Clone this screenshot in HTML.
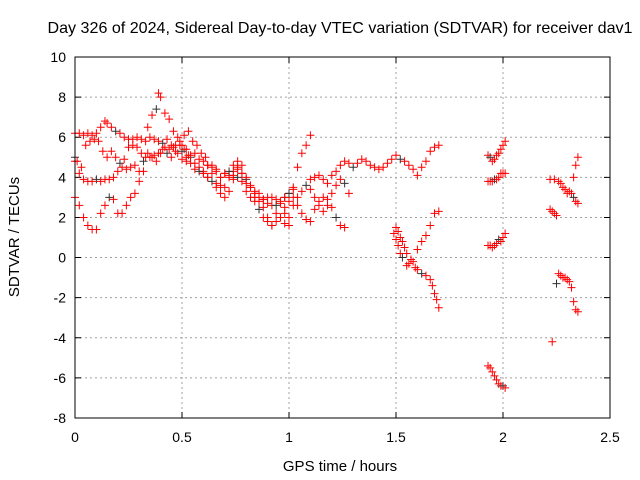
<!DOCTYPE html>
<html><head><meta charset="utf-8"><style>
body{margin:0;background:#fff}
svg{display:block;font-family:"Liberation Sans",sans-serif}
</style></head><body>
<svg id="chart" width="640" height="480" viewBox="0 0 640 480">
<rect width="640" height="480" fill="#fff"/>
<text x="340" y="33" font-size="16" text-anchor="middle" textLength="585" lengthAdjust="spacingAndGlyphs">Day 326 of 2024, Sidereal Day-to-day VTEC variation (SDTVAR) for receiver dav1</text>
<text x="340" y="471" font-size="15" text-anchor="middle">GPS time / hours</text>
<text transform="translate(19,237) rotate(-90)" font-size="15" text-anchor="middle">SDTVAR / TECUs</text>
<g id="grid"></g>
<g id="ticks"></g>
<g id="points"></g>
<rect x="75" y="57" width="535" height="361" fill="none" stroke="#000" stroke-width="1"/>
</svg>
<script>
const xTicks=[0,0.5,1,1.5,2,2.5];
const xTickLabels=["0","0.5","1","1.5","2","2.5"];
const yTicks=[-8,-6,-4,-2,0,2,4,6,8,10];
const yTickLabels=["-8","-6","-4","-2","0","2","4","6","8","10"];
// each track: time (hours) and SDTVAR values
const trackTimes=[
 [0,0.02,0.04,0.06,0.08,0.1,0.12,0.14,0.15,0.17,0.19,0.21,0.23,0.25,0.27,0.29,0.31,0.33,0.35,0.37,0.39,0.41,0.43,0.45,0.47,0.49,0.51,0.53,0.55,0.57,0.59,0.61],
 [0,0.01,0.03,0.05,0.07,0.09,0.11,0.13,0.15,0.17,0.19,0.21,0.23,0.25,0.27,0.29,0.31,0.33,0.35,0.37,0.39,0.41,0.43,0.45,0.47,0.49,0.51,0.53],
 [0,0.02,0.04,0.06,0.08,0.1,0.12,0.14,0.16,0.18,0.2,0.22,0.24,0.26,0.28,0.3,0.32,0.34,0.36,0.38,0.4,0.42,0.44,0.46,0.48,0.5,0.52,0.54,0.56,0.58,0.6,0.62,0.64,0.66,0.68,0.7,0.72,0.74,0.76,0.78,0.8,0.82,0.84,0.86,0.88,0.9,0.92,0.94,0.96,0.98,1.0,1.02],
 [0,0.02,0.04,0.06,0.08,0.1,0.12,0.14,0.16,0.18,0.2,0.22,0.24,0.26,0.28,0.3,0.32,0.34,0.36,0.38,0.39,0.4,0.42,0.44,0.46,0.48,0.5,0.52,0.54,0.56,0.58,0.6,0.62,0.64,0.66,0.68,0.7,0.72,0.74,0.76,0.78,0.8,0.82,0.84,0.86,0.88,0.9,0.92,0.94,0.96,0.98,1.0],
 [0.5,0.52,0.54,0.56,0.58,0.6,0.62,0.64,0.66,0.68,0.7,0.72,0.74,0.76,0.78,0.8,0.82,0.84,0.86,0.88,0.9,0.92,0.94,0.96,0.98,1.0,1.02,1.04,1.06,1.08,1.1],
 [0.6,0.62,0.64,0.66,0.68,0.7,0.72,0.74,0.76,0.78,0.8,0.82,0.84,0.86,0.88,0.9,0.92,0.94,0.96,0.98,1.0,1.02,1.04,1.06,1.08,1.1,1.12,1.14,1.16,1.18,1.2,1.22,1.24,1.26,1.28,1.3,1.32,1.34,1.36,1.38,1.4,1.42,1.44,1.46,1.48,1.5,1.52,1.54,1.56,1.58,1.6,1.62,1.64,1.66,1.68,1.7],
 [0.98,1.0,1.02,1.04,1.06,1.08,1.1,1.12,1.14,1.16,1.18,1.2,1.22,1.24,1.26],
 [1.1,1.12,1.14,1.16,1.18,1.2,1.22,1.24,1.26,1.28],
 [1.5,1.51,1.52,1.53,1.54,1.55,1.57,1.59,1.6,1.62,1.64,1.66,1.67,1.68,1.69,1.7],
 [1.49,1.5,1.51,1.52,1.53,1.55,1.56,1.58,1.6,1.62,1.64,1.66,1.68,1.7],
 [1.93,1.94,1.95,1.96,1.97,1.98,1.99,2.0,2.01],
 [1.93,1.94,1.95,1.96,1.97,1.98,1.99,2.0,2.01],
 [1.93,1.94,1.95,1.96,1.97,1.98,1.99,2.0,2.01],
 [1.93,1.94,1.95,1.96,1.97,1.98,1.99,2.0,2.01],
 [2.22,2.24,2.26,2.27,2.28,2.29,2.3,2.31,2.32,2.33,2.34,2.35],
 [2.22,2.23,2.24,2.25],
 [2.33,2.34,2.35],
 [2.23,2.25,2.26,2.27,2.28,2.29,2.3,2.31,2.32,2.33,2.34,2.35]
];
const trackValues=[
 [6.2,6.2,6.1,6.2,6.1,6.2,6.5,6.8,6.7,6.5,6.3,6.2,6.0,5.9,5.9,6.0,5.9,5.8,6.0,5.9,5.8,5.7,5.9,5.6,5.6,5.8,6.1,6.3,5.8,5.6,5.2,5.0],
 [5.0,4.8,4.5,5.6,5.8,5.9,5.8,5.3,5.0,5.3,5.0,4.7,4.9,5.5,5.6,5.5,5.2,5.0,5.0,5.1,5.2,5.4,5.2,5.0,5.3,5.6,5.4,5.1],
 [4.8,4.2,3.9,3.8,3.8,3.9,3.8,3.9,3.9,4.0,4.3,4.5,4.4,4.5,4.6,4.3,4.8,5.2,5.0,4.8,5.2,5.5,5.4,5.5,5.2,4.9,4.8,5.0,4.7,4.5,4.3,4.6,4.5,4.3,4.0,4.2,4.0,4.1,4.0,3.8,3.3,3.0,2.8,3.0,2.9,3.0,3.0,2.9,2.8,3.0,3.2,3.4],
 [3.0,2.6,2.0,1.6,1.4,1.4,2.2,2.6,3.0,2.9,2.2,2.2,2.6,3.0,3.2,3.8,4.3,6.5,7.1,7.4,8.2,8.0,7.2,6.9,6.3,6.0,5.6,5.0,4.7,4.4,4.3,4.2,4.0,4.2,3.7,3.6,3.5,4.1,4.3,4.5,4.2,3.9,3.5,3.2,2.8,2.5,2.0,1.6,1.8,2.0,2.2,2.0],
 [5.3,5.4,5.1,5.2,4.9,4.8,4.6,4.6,4.4,4.0,4.2,4.3,4.6,4.8,4.2,3.7,3.5,3.3,3.2,2.9,2.7,2.6,2.6,2.7,2.5,2.8,3.5,4.5,5.2,5.6,6.1],
 [4.2,4.0,3.8,3.5,3.2,3.0,3.3,3.9,4.4,4.6,4.0,3.6,3.0,2.4,2.0,1.8,1.6,2.2,2.0,1.7,1.6,2.6,3.0,3.3,3.6,3.9,4.0,4.1,3.9,3.7,4.1,4.3,4.6,4.8,4.7,4.5,4.7,4.9,4.8,4.6,4.5,4.4,4.5,4.7,4.9,5.1,4.9,4.8,4.6,4.4,4.1,4.5,4.8,5.3,5.5,5.6],
 [3.0,3.2,3.0,2.6,2.2,1.9,1.8,2.4,2.8,3.0,2.9,2.5,2.0,1.6,1.5],
 [3.4,3.0,2.6,2.3,2.6,3.2,3.6,3.9,3.7,3.2],
 [1.5,1.3,1.0,0.8,0.5,0.2,-0.1,-0.5,-0.6,-0.8,-0.9,-1.1,-1.4,-1.8,-2.1,-2.5],
 [1.2,0.9,0.6,0.2,0.0,-0.4,-0.3,-0.2,0.4,0.8,1.1,1.6,2.2,2.3],
 [5.1,5.0,4.8,4.9,5.1,5.2,5.4,5.6,5.8],
 [3.8,3.8,3.8,3.9,3.9,4.0,4.2,4.2,4.2],
 [0.6,0.6,0.5,0.6,0.7,0.9,0.8,1.0,1.2],
 [-5.4,-5.5,-5.7,-5.9,-6.1,-6.3,-6.4,-6.4,-6.5],
 [3.9,3.9,3.8,3.7,3.5,3.4,3.2,3.3,3.2,3.0,2.8,2.7],
 [2.4,2.3,2.2,2.1],
 [4.0,4.6,5.0],
 [-4.2,-1.3,-0.8,-0.9,-1.0,-1.0,-1.1,-1.2,-1.5,-2.2,-2.6,-2.7]
];
const svgNS="http://www.w3.org/2000/svg";
const X0=75,X1=610,Y0=418,Y1=57;
const xMin=0,xMax=2.5,yMin=-8,yMax=10;
function xs(h){return X0+(h-xMin)/(xMax-xMin)*(X1-X0);}
function ys(v){return Y0-(v-yMin)/(yMax-yMin)*(Y0-Y1);}
const grid=document.getElementById('grid'),ticks=document.getElementById('ticks'),pts=document.getElementById('points');
function mk(tag,attrs,parent){const e=document.createElementNS(svgNS,tag);for(const k in attrs)e.setAttribute(k,attrs[k]);parent.appendChild(e);return e;}
xTicks.forEach((t,i)=>{
 const x=xs(t);
 if(i>0&&i<xTicks.length-1){const g=mk('line',{x1:x,x2:x,y1:Y1,y2:Y0,stroke:'#a0a0a0','stroke-dasharray':'2,3'},grid);
 
 }
 const tk=mk('path',{d:`M${x},${Y0}v-6M${x},${Y1}v6`,stroke:'#000'},ticks);
 
 
 const lb=mk('text',{x:x,y:Y0+24,'font-size':14,'text-anchor':'middle'},ticks);lb.textContent=xTickLabels[i];
 
 
});
yTicks.forEach((t,i)=>{
 const y=ys(t);
 if(i>0&&i<yTicks.length-1){const g=mk('line',{x1:X0,x2:X1,y1:y,y2:y,stroke:'#a0a0a0','stroke-dasharray':'2,3'},grid);
 
 }
 const tk=mk('path',{d:`M${X0},${y}h6M${X1},${y}h-6`,stroke:'#000'},ticks);
 
 
 const lb=mk('text',{x:X0-9,y:y+5,'font-size':14,'text-anchor':'end'},ticks);lb.textContent=yTickLabels[i];
 
 
});
let n=0;
trackTimes.forEach((tt,ti)=>{
 tt.forEach((h,j)=>{
  const v=trackValues[ti][j];
  if(v===undefined)return;
  const x=xs(h),y=ys(v);
  n++;
  const col=(n%11===0)?'#333':'#ff0000';
  const p=mk('path',{d:`M${x-4},${y}h8M${x},${y-4}v8`,stroke:col,'stroke-width':1},pts);
  
  
 });
});
</script>
</body></html>
